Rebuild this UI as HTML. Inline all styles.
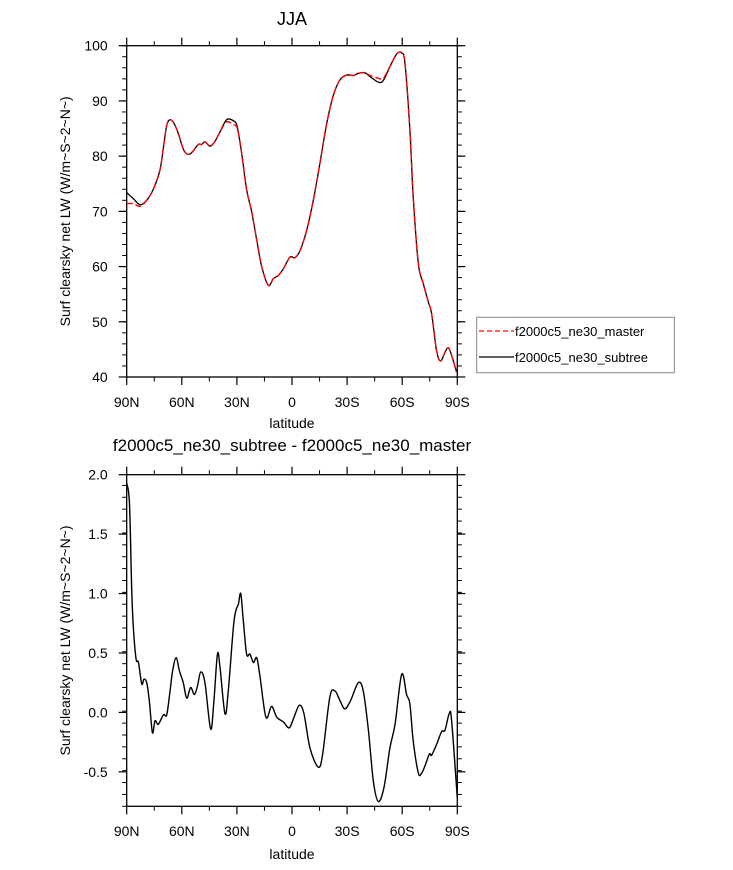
<!DOCTYPE html>
<html><head><meta charset="utf-8"><style>
body{margin:0;background:#fff;}
svg text{font-family:"Liberation Sans",sans-serif;fill:#000;}
</style></head><body>
<svg id="chart" width="733" height="865" viewBox="0 0 733 865" xmlns="http://www.w3.org/2000/svg">
<text x="292" y="25" font-size="18" text-anchor="middle">JJA</text>
<text x="292" y="451" font-size="17" text-anchor="middle">f2000c5_ne30_subtree - f2000c5_ne30_master</text>
<g id="top"></g>
<g id="bot"></g>
<g>
<rect x="476.7" y="317.3" width="197.6" height="55.4" fill="#fff" stroke="#888" stroke-width="1"/>
<line x1="479" y1="331" x2="514" y2="331" stroke="#f00" stroke-width="1.3" stroke-dasharray="5,3"/>
<text x="515" y="336" font-size="13">f2000c5_ne30_master</text>
<line x1="479" y1="357" x2="514" y2="357" stroke="#000" stroke-width="1.3"/>
<text x="515" y="362" font-size="13">f2000c5_ne30_subtree</text>
</g>
</svg>
<script>
const topLat=[90,86.4,82.7,79.1,75.5,71.9,69.7,68.2,66.4,64.2,61.9,58.8,55.5,51.0,49.2,47.4,44.6,41.9,39.2,35.6,31.9,29.8,27.4,24.7,22.0,19.2,16.5,12.9,10.2,7.4,4.7,1.1,-1.6,-4.4,-8.0,-11.6,-15.2,-18.9,-22.5,-26.1,-29.8,-33.4,-36.1,-39.7,-42.5,-47.0,-49.7,-53.3,-57.0,-59.7,-61.5,-64.2,-66.0,-68.8,-71.5,-74.2,-76.0,-78.7,-80.9,-83.3,-85.1,-86.9,-89.6];
const subtree=[73.4,72.3,71.2,72.0,74.0,77.5,82.3,85.6,86.6,85.9,84.1,81.0,80.4,82.1,82.1,82.6,81.8,82.7,84.4,86.6,86.4,85.3,80.5,73.9,70.0,64.8,60.0,56.6,57.8,58.4,59.6,61.7,61.6,62.9,66.6,72.0,78.7,85.9,91.0,93.8,94.7,94.6,95.0,95.1,94.4,93.4,93.7,96.2,98.5,98.7,96.8,84.7,72.6,60.5,56.9,53.6,51.5,44.8,42.9,44.5,45.3,43.9,40.9];
const master=[71.4,71.4,70.9,72.0,74.0,77.5,82.3,85.6,86.6,85.9,84.1,81.0,80.4,82.1,82.1,82.6,81.8,82.7,84.4,86.2,85.7,85.0,80.5,73.9,70.0,64.8,60.0,56.6,57.8,58.4,59.6,61.7,61.6,62.9,66.6,72.0,78.7,85.9,91.0,93.8,94.7,94.6,95.0,95.1,94.6,94.1,94.1,96.2,98.5,98.7,96.8,84.7,72.6,60.5,56.9,53.6,51.5,44.8,42.9,44.5,45.3,43.9,40.9];
const diffLat=[90,88.5,87.3,86.4,84.9,83.6,81.8,80.6,79.1,77.7,76.0,74.6,72.8,70.0,68.2,66.4,65.0,63.1,61.3,59.2,57.3,55.2,53.2,51.5,49.7,47.4,44.3,42.5,40.6,39.2,36.5,34.7,31.9,30.5,29.2,27.9,26.5,24.7,22.9,21.0,19.2,17.4,14.2,11.1,8.3,4.7,1.5,-1.1,-4.0,-6.5,-9.8,-14.3,-16.7,-20.6,-23.4,-26.1,-28.8,-31.9,-36.1,-38.8,-41.6,-44.3,-47.0,-50.1,-53.3,-56.1,-59.7,-62.4,-64.2,-66.0,-68.8,-70.6,-72.4,-74.8,-76.0,-78.7,-81.5,-83.3,-85.6,-86.9,-90];
const diff=[1.93,1.76,1.05,0.72,0.45,0.42,0.24,0.28,0.25,0.10,-0.17,-0.07,-0.10,-0.02,-0.02,0.18,0.35,0.46,0.35,0.25,0.12,0.21,0.15,0.22,0.34,0.25,-0.14,0.10,0.49,0.38,-0.01,0.18,0.72,0.86,0.91,1.00,0.77,0.49,0.49,0.42,0.46,0.30,-0.04,0.05,-0.04,-0.08,-0.13,-0.04,0.06,-0.01,-0.30,-0.46,-0.35,0.13,0.18,0.10,0.03,0.10,0.25,0.18,-0.15,-0.58,-0.75,-0.63,-0.30,-0.10,0.32,0.15,0.07,-0.24,-0.51,-0.51,-0.45,-0.35,-0.36,-0.27,-0.16,-0.15,-0.01,-0.07,-0.72];
const xTickVals=[90,60,30,0,-30,-60,-90];
const xTickLabels=["90N","60N","30N","0","30S","60S","90S"];
const topYTicks=[40,50,60,70,80,90,100];
const botYTicks=[-0.5,0.0,0.5,1.0,1.5,2.0];
const botYLabels=["-0.5","0.0","0.5","1.0","1.5","2.0"];

const NS="http://www.w3.org/2000/svg";
function mk(parent,tag,attrs){const e=document.createElementNS(NS,tag);for(const k in attrs)e.setAttribute(k,attrs[k]);parent.appendChild(e);return e;}
function smooth(pts){let d="M"+pts[0][0].toFixed(2)+","+pts[0][1].toFixed(2);
 for(let i=0;i<pts.length-1;i++){const p0=pts[i-1]||pts[i],p1=pts[i],p2=pts[i+1],p3=pts[i+2]||p2;
  const c1=[p1[0]+(p2[0]-p0[0])/6,p1[1]+(p2[1]-p0[1])/6],c2=[p2[0]-(p3[0]-p1[0])/6,p2[1]-(p3[1]-p1[1])/6];
  d+="C"+c1[0].toFixed(2)+","+c1[1].toFixed(2)+" "+c2[0].toFixed(2)+","+c2[1].toFixed(2)+" "+p2[0].toFixed(2)+","+p2[1].toFixed(2);}
 return d;}
function panel(g,top,bot,ymin,ymax,yticks,ylabels,minorStep,xlabY,xtitleY){
 const L=126.7,R=457.3;
 const xs=v=>L+(90-v)/180*(R-L);
 const ys=v=>bot-(v-ymin)/(ymax-ymin)*(bot-top);
 const fr=mk(g,"rect",{x:L,y:top,width:R-L,height:bot-top,fill:"none",stroke:"#000","stroke-width":1.3});
 
 
 for(let v=90;v>=-90;v-=15){const x=xs(v);const len=(v%30===0)?8:4.5;const sw=(v%30===0)?1.2:1;
  mk(g,"line",{x1:x,y1:bot,x2:x,y2:bot+len,stroke:"#000","stroke-width":sw});
  mk(g,"line",{x1:x,y1:top,x2:x,y2:top-len,stroke:"#000","stroke-width":sw});}
 xTickVals.forEach((v,i)=>{const t=mk(g,"text",{x:xs(v),y:xlabY,"font-size":14,"text-anchor":"middle"});t.textContent=xTickLabels[i];
  
  });
 const xt=mk(g,"text",{x:292,y:xtitleY,"font-size":14,"text-anchor":"middle"});xt.textContent="latitude";
 
 
 for(let v=ymin;v<=ymax+1e-9;v+=minorStep){const y=ys(v);if(y>bot+0.5)continue;
  mk(g,"line",{x1:L,y1:y,x2:L-4.5,y2:y,stroke:"#000","stroke-width":1});mk(g,"line",{x1:R,y1:y,x2:R+4.5,y2:y,stroke:"#000","stroke-width":1});}
 yticks.forEach((v,i)=>{const y=ys(v);
  mk(g,"line",{x1:L,y1:y,x2:L-8,y2:y,stroke:"#000","stroke-width":1.2});mk(g,"line",{x1:R,y1:y,x2:R+8,y2:y,stroke:"#000","stroke-width":1.2});
  const t=mk(g,"text",{x:L-19,y:y+5,"font-size":14,"text-anchor":"end"});t.textContent=ylabels[i];
  
  });
 const cy=(top+bot)/2;
 const yt=mk(g,"text",{x:70,y:cy,"font-size":14,"text-anchor":"middle",transform:"rotate(-90 70 "+cy+")"});yt.textContent="Surf clearsky net LW (W/m~S~2~N~)";
 
 
 return {xs,ys};}
const T=panel(document.getElementById("top"),45.7,377,40,100,topYTicks,topYTicks.map(String),2,407,428);
const B=panel(document.getElementById("bot"),474.7,806.3,-0.79,2.0,botYTicks,botYLabels,0.1,836,859);
const gt=document.getElementById("top"),gb=document.getElementById("bot");
const pm=mk(gt,"path",{d:smooth(topLat.map((l,i)=>[T.xs(l),T.ys(master[i])])),fill:"none",stroke:"#f00","stroke-width":1.4,"stroke-dasharray":"6,3"});


const ps=mk(gt,"path",{d:smooth(topLat.map((l,i)=>[T.xs(l),T.ys(subtree[i])])),fill:"none",stroke:"#000","stroke-width":1.3});


gt.insertBefore(ps,pm);
const pd=mk(gb,"path",{d:smooth(diffLat.map((l,i)=>[B.xs(l),B.ys(diff[i])])),fill:"none",stroke:"#000","stroke-width":1.4});


</script>
</body></html>
